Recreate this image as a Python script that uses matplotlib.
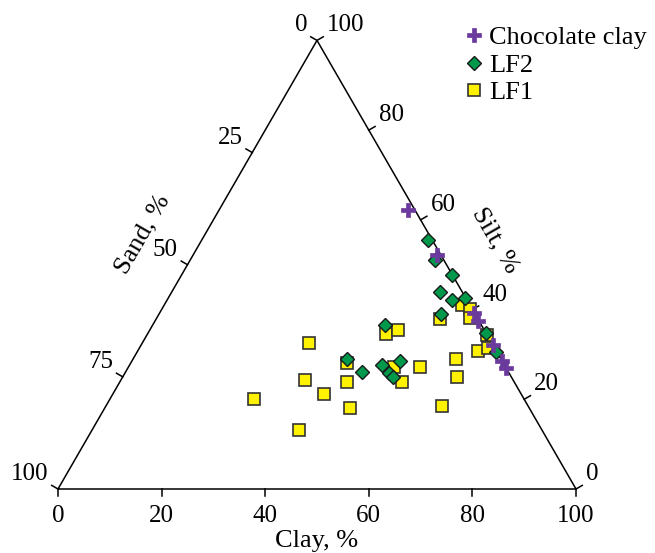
import numpy as np
import matplotlib.pyplot as plt
from matplotlib.lines import Line2D

plt.rcParams['font.family'] = 'Liberation Serif'

# clay %, silt % for each sample (sand = 100 - clay - silt)
choc_clay = [36.5, 47.1, 60.7, 62.4, 67.9, 71.4, 73.0]
choc_silt = [62.2, 52.2, 39.2, 37.4, 32.1, 28.5, 27.0]

lf2_clay = [43.7, 47.3, 52.2, 51.8, 55.0, 57.3, 54.4, 65.2, 69.3,
            44.8, 41.3, 45.6, 48.7, 51.8, 50.9, 52.2]
lf2_silt = [55.5, 51.0, 47.7, 43.9, 42.1, 42.6, 39.0, 34.8, 30.5,
            36.6, 29.0, 26.1, 27.6, 28.5, 25.9, 25.0]

lf1_clay = [32.2, 35.5, 27.8, 40.8, 39.9, 41.7, 43.8, 47.3, 46.0, 47.9, 51.3, 54.5,
            56.3, 54.8, 62.3, 64.5, 64.9, 57.5, 59.5, 60.5, 65.6, 65.7, 67.3]
lf1_silt = [32.5, 24.3, 20.1, 21.2, 13.2, 28.1, 23.9, 18.1, 34.6, 35.4, 27.2, 23.9,
            27.2, 37.9, 29.0, 25.0, 18.5, 41.0, 40.1, 38.1, 34.3, 30.8, 31.4]

clay_ticks = [0, 20, 40, 60, 80, 100]
sand_ticks = [0, 25, 50, 75, 100]
silt_ticks = [0, 20, 40, 60, 80, 100]

h = np.sqrt(3) / 2


def to_xy(clay, silt):
    clay = np.asarray(clay, dtype=float)
    silt = np.asarray(silt, dtype=float)
    return clay + silt / 2, silt * h


fig = plt.figure(figsize=(6.55, 5.53), dpi=100)
ax = fig.add_axes([0, 0, 1, 1])
ax.set_xlim(-58 / 5.18, (655 - 58) / 5.18)
ax.set_ylim(-64 / 5.18, (553 - 64) / 5.18)
ax.axis('off')

# triangle
ax.plot([0, 100, 50, 0], [0, 0, 100 * h, 0], color='black', lw=1.1, zorder=1)

L = 1.4
fs = 18
# bottom axis: clay
for v in clay_ticks:
    ax.plot([v, v], [0, -L], color='black', lw=1.1)
    ax.text(v, -5.2, str(v), ha='center', va='center', fontsize=fs)
# left axis: sand
for d in sand_ticks:
    x0, y0 = (100 - d) / 2, (100 - d) * h
    ax.plot([x0, x0 - h * L], [y0, y0 + 0.5 * L], color='black', lw=1.1)
    ax.text(x0 - 1.9, y0 + 2.9, str(d), ha='right', va='center', fontsize=fs)
# right axis: silt
for s in silt_ticks:
    x0, y0 = 100 - s / 2, s * h
    ax.plot([x0, x0 + h * L], [y0, y0 + 0.5 * L], color='black', lw=1.1)
    ax.text(x0 + 1.9, y0 + 2.9, str(s), ha='left', va='center', fontsize=fs)

ax.text(50, -10.1, 'Clay, %', ha='center', va='center', fontsize=19)
ax.text(16.3, 49.1, 'Sand, %', ha='center', va='center', rotation=60, fontsize=19)
ax.text(84.4, 48.1, 'Silt, %', ha='center', va='center', rotation=-60, fontsize=19)

x, y = to_xy(lf1_clay, lf1_silt)
ax.plot(x, y, 's', ms=9, mfc='#FFF200', mec='#333333', mew=1.2, zorder=3)
x, y = to_xy(lf2_clay, lf2_silt)
ax.plot(x, y, 'D', ms=6.8, mfc='#00994C', mec='#1a1a1a', mew=1.0, zorder=4)
x, y = to_xy(choc_clay, choc_silt)
ax.plot(x, y, 'P', ms=9.5, mfc='#6A3A9C', mec='#6A3A9C', mew=0.5, zorder=5)

handles = [
    Line2D([], [], marker='P', ls='', ms=9.5, mfc='#6A3A9C', mec='#6A3A9C', mew=0.5),
    Line2D([], [], marker='D', ls='', ms=6.8, mfc='#00994C', mec='#1a1a1a', mew=1.0),
    Line2D([], [], marker='s', ls='', ms=9, mfc='#FFF200', mec='#333333', mew=1.2),
]
fig.legend(handles, ['Chocolate clay', 'LF2', 'LF1'], loc='upper left',
           bbox_to_anchor=(0.708, 0.953), frameon=False, fontsize=19,
           handlelength=0.8, handletextpad=0.15, labelspacing=0.15,
           borderpad=0, borderaxespad=0)

plt.savefig('out.png', dpi=100)
